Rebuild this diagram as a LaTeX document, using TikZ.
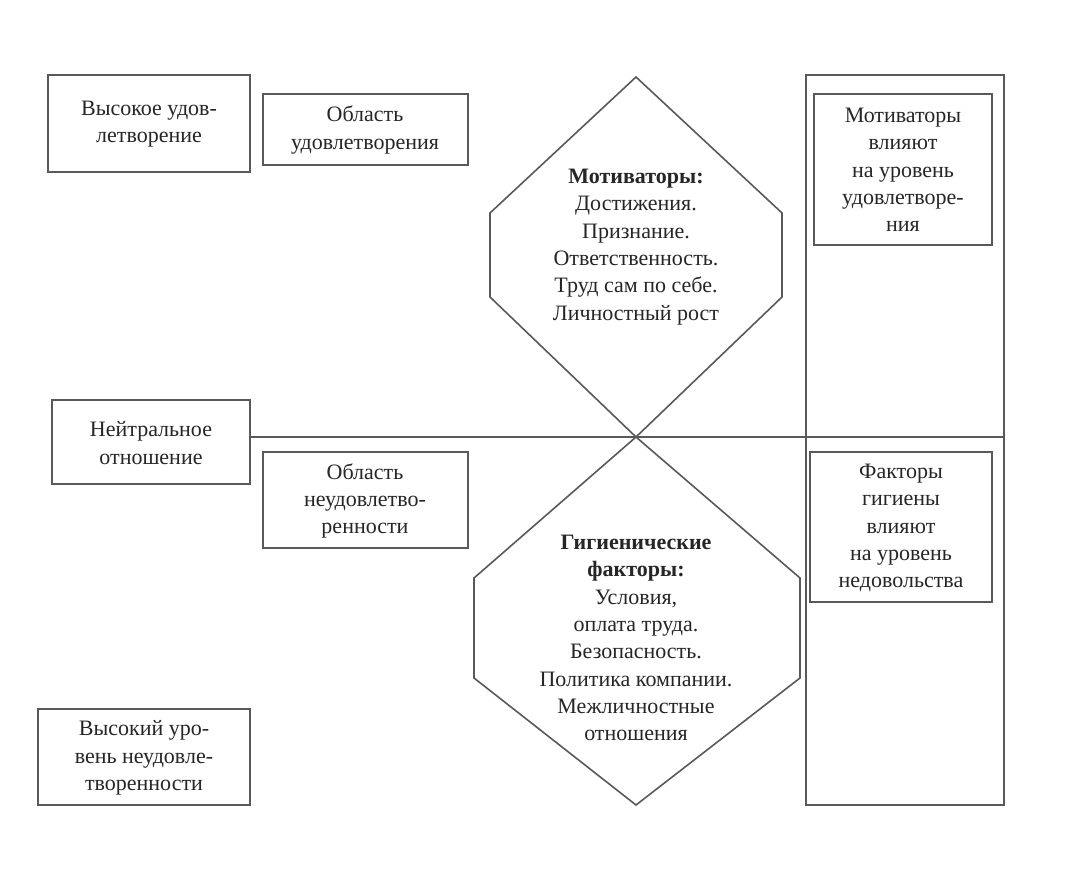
\documentclass[tikz,border=0pt]{standalone}
\usepackage{fontspec}
\setmainfont{Liberation Serif}
\begin{document}
\begin{tikzpicture}[x=0.75pt,y=-0.75pt,
  ln/.style={draw=black!65,line width=1.2pt},
  bx/.style={ln,fill=white},
  tx/.style={align=center,font=\fontsize{16.5}{20.5}\selectfont,text=black!85,inner sep=0pt}]
\useasboundingbox (0,0) rectangle (1076,874);
% right tall rectangle and line
\draw[ln] (806,75) rectangle (1004,805);
\coordinate (hl) at (250,437); \coordinate (hr) at (1004,437);
\draw[ln] (hl) -- (hr);
% arrows
\draw[ln,fill=white] (636,77) -- (490,213) -- (490,297) -- (636,437) -- (782,297) -- (782,213) -- cycle;
\draw[ln,fill=white] (636,437) -- (474,578) -- (474,678) -- (636,805) -- (800,678) -- (800,578) -- cycle;
% boxes
\draw[bx] (48,75) rectangle (250,172);
\node[tx] (a) at (149,124) {Высокое удов-\\летворение};
\draw[bx] (263,94) rectangle (468,165);
\node[tx] (b) at (365,130) {Область\\удовлетворения};
\draw[bx] (814,94) rectangle (992,245);
\node[tx] (c) at (903,170) {Мотиваторы\\влияют\\на уровень\\удовлетворе-\\ния};
\draw[bx] (52,400) rectangle (250,484);
\node[tx] (d) at (151,443) {Нейтральное\\отношение};
\draw[bx] (263,452) rectangle (468,548);
\node[tx] (e) at (365,501) {Область\\неудовлетво-\\ренности};
\draw[bx] (810,452) rectangle (992,602);
\node[tx] (f) at (901,528) {Факторы\\гигиены\\влияют\\на уровень\\недовольства};
\draw[bx] (38,709) rectangle (250,805);
\node[tx] (g) at (144,758) {Высокий уро-\\вень неудовле-\\творенности};
% arrow texts
\node[tx] (m) at (636,247) {\textbf{Мотиваторы:}\\Достижения.\\Признание.\\Ответственность.\\Труд сам по себе.\\Личностный рост};
\node[tx] (h) at (636,638) {\textbf{Гигиенические}\\\textbf{факторы:}\\Условия,\\оплата труда.\\Безопасность.\\Политика компании.\\Межличностные\\отношения};
\end{tikzpicture}
\end{document}
